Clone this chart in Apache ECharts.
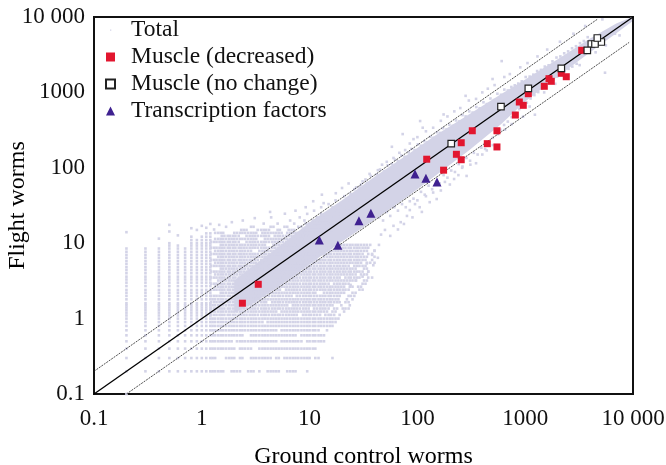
<!DOCTYPE html>
<html><head><meta charset="utf-8">
<style>html,body{margin:0;padding:0;background:#fff}#c{width:666px;height:465px}</style>
<script src="https://cdn.jsdelivr.net/npm/echarts@6/dist/echarts.min.js"></script>
</head><body><div id="c"></div>
<script>
const tickLabels = ['0.1','1','10','100','1000','10 000'];

const muscleDecreased = [[122,130],[323,310],[255,215],[230,151],[255,128],[175,93],[547,310],[445,209],[547,189],[810,501],[882,746],[960,674],[1069,961],[1504,1205],[1663,1520],[1746,1403],[2162,1792],[2405,1614],[3342,3614],[3.34,2.85],[2.38,1.6]];
const muscleNoChange = [[206,209],[596,646],[1069,1133],[2162,2089],[5080,4660],[4104,4385],[4440,4385],[3767,3614],[4667,5265]];
const transcriptionFactors = [[95,83],[120,72.6],[152,64.8],[12.3,11],[18.3,9.4],[28.7,19.9],[37,24.9]];

// Solid part of the "Total" cloud: edges
const bandX    = [2,3,6,10,20,40,80,150,300,600,1000,2000,4000,7000,9800];
const bandHigh = [3.2,5,10.5,19,37,76,148,275,510,950,1480,2750,5200,8200,10000];
const bandLow  = [1.2,1.6,3.1,5.3,10.5,20.5,41,80,170,380,760,1620,3400,6100,8700];

// Discrete count levels visible in the low-expression part of the cloud
const lowLevels = [0.1,0.2,0.3,0.4,0.5,0.6,0.7,0.8,0.9,1,1.1,1.2,1.3,1.4,1.5,1.6,1.8,2,2.2,2.4,2.7,3,3.3,3.6,4,4.4,4.8,5.3,5.8,6.4,7,7.7,8.5,9.3,10,11,12.2,13.5];
// column: x, lowest y, highest y
const columns = [[0.2,0.1,8.5],[0.3,0.2,8.5],[0.4,0.2,8.5],[0.5,0.2,10],[0.6,0.2,9.3],[0.7,0.2,8.5],[0.8,0.2,12.2],[0.9,0.2,11],[1,0.2,12.2],[1.1,0.2,13.5],[1.2,0.2,13.5]];
const rowLevels = [1.26,1.33,1.42,1.5,1.58,1.68,1.79,1.89,2,2.12,2.26,2.38,2.52,2.69,2.86,3.02,3.2,3.42,3.65,3.85,4.08,4.35,4.62,4.9,5.18,5.5,5.85,6.2,6.6,7,7.4,7.85,8.4,8.95,9.5,10,10.7,11.3,12.1,12.8,13.6,14.5,15.4,16.3,17.4,18.5,19.7];
// row: y, stretches of x where dots occur
const rows = [
 [0.2,[[1.2,1.65],[1.8,2.3],[2.6,3.1],[3.3,3.45],[4,5.3],[6,7.4],[9.4,9.6]]],
 [0.3,[[1.25,1.4],[1.6,1.9],[2,2.1],[2.2,2.5],[2.7,4.4],[4.8,5.3],[5.6,10],[11.3,12.5],[16,16.4]]],
 [0.4,[[1.25,2],[2.2,3],[3.3,6.6],[7,11.5]]],
 [0.5,[[1.25,1.9],[2.05,5],[5.5,8.5],[9.5,13.7]]],
 [0.6,[[1.25,2.5],[2.8,7.5],[8,14]]],
 [0.7,[[1.25,4.9],[5.2,12.2],[14,14.6]]],
 [0.8,[[1.25,7],[7.4,16.4]]],
 [0.9,[[1.25,3.7],[4,17.5]]],
 [1,[[1.25,9],[9.5,18.6]]]
];
// scattered part of the cloud: rows of dots, with two irregular x rakes
const rakeA = [1.22,1.3,1.37,1.46,1.53,1.62,1.74,1.83,1.95,2.05,2.2,2.32,2.45,2.6,2.78,2.95,3.1,3.3,3.55,3.75,3.95,4.2,4.5,4.75,5.05,5.3,5.65,6.05,6.4,6.8,7.2,7.6,8.1,8.7,9.2,9.8,10.3,11,11.7,12.5,13.2,14,15,15.8,16.9,18,19,20.3,21.5,23,24.2,26,27.5,29,31,33,35,38];
const rakeB = [1.26,1.33,1.42,1.5,1.58,1.68,1.79,1.89,2,2.12,2.26,2.38,2.52,2.69,2.86,3.02,3.2,3.42,3.65,3.85,4.08,4.35,4.62,4.9,5.18,5.5,5.85,6.2,6.6,7,7.4,7.85,8.4,8.95,9.5,10,10.7,11.3,12.1,12.8,13.6,14.5,15.4,16.3,17.4,18.5,19.7,20.9,22.2,23.6,25,26.7,28.2,30,32,34,36.5,40];
const cloudRows = [
 [1.12,rakeA,[[1.2,8],[8.5,13],[14,17],[19,20]]],
 [1.24,rakeB,[[1.2,5],[5.5,15],[16,18],[20,21]]],
 [1.36,rakeA,[[1.2,10],[11,15],[16.5,18],[20,23]]],
 [1.5,rakeB,[[1.2,6.5],[7,17],[19,20],[23,24]]],
 [1.65,rakeA,[[1.2,4],[4.3,14],[15,19],[21,24]]],
 [1.8,rakeB,[[1.2,9],[9.5,19],[21,23],[25,26]]],
 [2,rakeA,[[1.2,7],[7.6,20],[23,27]]],
 [2.2,rakeB,[[1.5,12],[13,21],[25,28]]],
 [2.42,rakeA,[[1.2,5.4],[6,17],[18,24],[29,31]]],
 [2.65,rakeB,[[1.3,10],[10.5,21],[23,26],[28,30]]],
 [2.9,rakeA,[[1.2,3],[3.3,15],[16,24],[31,33]]],
 [3.2,rakeB,[[1.4,8],[8.4,24],[25,28],[32,34]]],
 [3.5,rakeA,[[1.2,6],[6.4,20],[21,29],[35,38]]],
 [3.85,rakeB,[[1.3,4],[4.4,27],[30,34]]],
 [4.2,rakeA,[[1.2,11],[11.7,31],[35,36]]],
 [4.6,rakeB,[[1.5,7],[7.4,28],[32,36]]],
 [5,rakeA,[[1.2,3.5],[4,24],[26,33]]],
 [5.5,rakeB,[[1.3,9],[9.5,30],[34,40]]],
 [6,rakeA,[[1.2,5],[5.6,33],[38,39]]],
 [6.6,rakeB,[[1.4,12],[13,36],[40,41]]],
 [7.2,rakeA,[[1.2,7],[8,31],[35,38]]],
 [7.9,rakeB,[[1.3,3],[3.4,34],[40,41]]],
 [8.7,rakeA,[[1.2,5.3],[5.7,16],[18,35]]],
 [9.5,rakeB,[[1.5,4],[4.4,9],[9.5,36.5]]],
 [10.4,rakeA,[[1.2,2.3],[2.6,7],[7.6,13]]],
 [11.4,rakeB,[[1.3,3.3],[3.7,5.2],[5.5,9],[10,14]]],
 [12.5,rakeA,[[1.5,2.2],[2.6,4.3],[4.7,8],[8.7,11.8]]],
 [13.7,rakeB,[[1.3,1.6],[2,3.2],[3.6,5.5],[6.2,7.9],[8.9,10.8],[12,14]]],
 [15,rakeA,[[2.3,2.7],[3.2,4.3],[5,5.4],[6.3,7.3],[8.6,9.3],[10.2,12.6],[14,16]]],
 [16.5,rakeB,[[1.6,1.7],[2.8,3.1],[4.3,4.7],[5.8,6.3],[7.8,8.5],[10,11.4],[12.7,14.6]]],
 [18.2,rakeA,[[3.7,3.8],[5,5.1],[7.1,7.3],[9.1,9.9],[11,12.6],[14,17]]],
 [20,rakeB,[[6.5,6.7],[8.9,9],[10.6,11.4],[12,14.6],[16.2,17.5]]],
 [22,rakeA,[[8,8.2],[11.6,11.8],[13,14],[15.7,17],[18,19.1]]],
 [24.5,rakeB,[[9.4,9.6],[12.7,12.9],[14.4,15.5],[17.3,20]]],
 [27,rakeA,[[11,11.1],[15.8,15.9],[18,19.1],[21.4,23.1]]],
 [30,rakeB,[[12.7,12.9],[16.2,17.5],[20.8,22.3],[25,26.8]]],
 [33,rakeA,[[15,15.1],[20.2,20.4],[23,24.3],[26,27.6]]],
 [37,rakeB,[[17.3,17.5],[22.1,22.3],[26.6,28.3],[30,32.1]]]
];
const scatterDots = [[0.2,14],[0.4,11.5],[0.5,17.5],[0.5,14.3],[0.6,12.7],[0.8,15.8],[0.9,15],[1,17],[1.1,16],[1.2,18],[1.45,17.5],[1.3,15.2],[1.9,19],[2.4,20],[3.1,21.5],[4.4,22],[4.3,26],[5.9,24.6],[7.4,27],[9.2,30],[10.8,36],[13,44],[17.5,46],[20,54],[13.5,34],[23,62],[27,55],[30,60],[33,70],[36,83],[43,93],[47,110],[52,120],[58,190],[60,135],[68,158],[73,280],[77,172],[85,210],[92,240],[100,255],[106,417],[112,340],[120,305],[140,340],[165,420],[175,510],[190,480],[220,560],[250,620],[280,900],[300,780],[350,820],[400,1000],[450,1120],[498,1505],[520,1250],[605,2600],[640,1600],[720,1750],[900,2150],[1050,2450],[1300,3000],[1600,3700],[2100,4700],[2800,6000],[3600,7600],[5200,9300],
 [5500,1824],[40,8],[44,9.5],[46,13],[50,15],[56,12.5],[60,17],[66,15.2],[70,19],[75,18],[85,27.5],[80,23],[90,22],[95,33],[105,30],[110,26],[120,42],[130,35],[140,47],[151,38.5],[165,50],[180,65],[200,60],[219,71],[240,80],[286,78],[260,100],[310,110],[350,115],[400,150],[440,170],[500,200],[560,280],[650,320],[750,380],[955,476],[1230,506],[1100,650],[1500,1000],[1900,1300],[2500,1650],[3200,2300],[4500,3400],[5600,4200],[7500,5700],[6800,6000],[3000,2400],[38,7],[34,5.4],[24,2.8],[27,3.2],[31,3.6],[35,4.2],[43,6.4],[39,5.1]
];
// dots hugging the solid band, which give it its rough edge
const edgeDots = [[21,42],[24,45],[26,52],[29,55],[31,66],[34,63],[37,78],[42,82],[45,95],[49,90],[53,108],[58,112],[62,128],[66,122],[71,146],[76,140],[83,160],[88,178],[94,172],[101,205],[108,196],[116,226],[124,218],[132,258],[141,250],[152,296],[162,290],[173,335],[186,322],[198,372],[212,360],[228,425],[244,412],[262,500],[280,480],[303,560],[325,540],[352,640],[378,615],[410,740],[440,700],[476,830],[512,790],[552,960],[596,930],[640,1090],[690,1060],[744,1180],[800,1240],[862,1310],[930,1400],[1010,1600],[1100,1620],[1190,1720],[1290,1920],[1400,1990],[1520,2200],[1650,2290],[1790,2580],[1950,2900],[2120,3000],[2300,3300],[2500,3500],[2720,3850],[2960,4100],[3220,4500],[3500,4800],[3800,5400],
 [44,22],[48,20],[52,26],[56,23],[61,30],[66,27],[72,33],[78,30],[85,36],[92,39],[100,37],[108,48],[117,44],[127,58],[137,52],[149,66],[161,62],[175,80],[190,74],[206,92],[223,88],[242,112],[262,104],[285,135],[308,124],[334,158],[362,150],[392,185],[425,178],[461,222],[500,250],[542,290],[588,320],[637,370],[690,410],[748,470],[811,540],[880,600],[954,660],[1035,730],[1122,830],[1217,920],[1320,1010],[1431,1120],[1552,1230],[1683,1350],[1825,1460],[1979,1620],[2146,1760],[2327,1900],[2523,2050],[2736,2200]
];

const totalDots = [];
columns.forEach(c => lowLevels.filter(y => y >= c[1] && y <= c[2]).forEach(y => totalDots.push([c[0], y])));
rows.forEach(r => r[1].forEach(s => rowLevels.filter(x => x >= s[0] && x <= s[1]).forEach(x => totalDots.push([x, r[0]]))));
cloudRows.forEach(r => r[2].forEach(s => r[1].filter(x => x >= s[0] && x <= s[1]).forEach(x => totalDots.push([x, r[0]]))));
scatterDots.forEach(p => totalDots.push(p));
edgeDots.forEach(p => totalDots.push(p));

const cloudColor = '#d3d3e7';
const serif = '"Liberation Serif","DejaVu Serif",serif';
const chart = echarts.init(document.getElementById('c'), null, {renderer:'canvas'});
const axisBase = {
  type:'log', logBase:10, min:0.1, max:10000,
  nameLocation:'middle',nameMoveOverlap:false,
  nameTextStyle:{color:'#000',fontFamily:serif,fontSize:24},
  axisLine:{show:true,lineStyle:{color:'#111',width:2}},
  axisTick:{show:false}, minorTick:{show:false}, splitLine:{show:false},
  axisLabel:{color:'#111',fontFamily:serif,fontSize:23,formatter:(v,i)=>tickLabels[i]}
};
chart.setOption({
  animation:false,
  backgroundColor:'#fff',
  grid:{left:94,right:33,top:17,bottom:71,outerBoundsMode:'none',show:true,borderColor:'#111',borderWidth:2,backgroundColor:'transparent'},
  xAxis:Object.assign({},axisBase,{name:'Ground control worms',nameGap:51,axisLabel:Object.assign({},axisBase.axisLabel,{margin:13})}),
  yAxis:Object.assign({},axisBase,{name:'Flight worms',nameGap:64,axisLabel:Object.assign({},axisBase.axisLabel,{margin:9})}),
  legend:{
    orient:'vertical',left:100,top:18,padding:[0,0,0,5],itemGap:3,itemWidth:9,itemHeight:9,
    textStyle:{fontFamily:serif,fontSize:23.5,color:'#111',padding:[0,0,0,11]},
    data:[
      {name:'Total',icon:'path://M0 0h.01v.01zM10 10h.01v.01zM4.5 4.5h1.4v1.4h-1.4z',itemStyle:{color:cloudColor}},
      {name:'Muscle (decreased)',icon:'rect'},
      {name:'Muscle (no change)',icon:'rect'},
      {name:'Transcription factors',icon:'triangle'}
    ]
  },
  series:[
    {name:'band',type:'custom',coordinateSystem:'cartesian2d',silent:true,z:1,data:[[1,1]],
     renderItem:(params,api)=>{
       const pts = bandX.map((x,i)=>api.coord([x,bandHigh[i]])).concat(bandX.map((x,i)=>api.coord([x,bandLow[i]])).reverse());
       return {type:'polygon',shape:{points:pts},style:{fill:cloudColor}};
     }},
    {name:'Total',type:'scatter',data:totalDots,symbol:'rect',symbolSize:2.6,z:2,itemStyle:{color:cloudColor,opacity:1},silent:true},
    {name:'y=x',type:'line',data:[[0.1,0.1],[10000,10000]],symbol:'none',z:3,lineStyle:{color:'#000',width:1.3},silent:true},
    {name:'2x',type:'line',data:[[0.1,0.2],[4730,9460]],symbol:'none',z:3,lineStyle:{color:'#222',width:0.8,type:[2,1]},silent:true},
    {name:'half',type:'line',data:[[0.2,0.1],[9200,4600]],symbol:'none',z:3,lineStyle:{color:'#222',width:0.8,type:[2,1]},silent:true},
    {name:'Muscle (decreased)',type:'scatter',data:muscleDecreased,symbol:'rect',symbolSize:7,z:4,itemStyle:{color:'#e2162f',opacity:1}},
    {name:'Muscle (no change)',type:'scatter',data:muscleNoChange,symbol:'rect',symbolSize:6.5,z:5,itemStyle:{color:'#fff',borderColor:'#222',borderWidth:1.2,opacity:1}},
    {name:'Transcription factors',type:'scatter',data:transcriptionFactors,symbol:'triangle',symbolSize:9,z:6,itemStyle:{color:'#3f2190',opacity:1}}
  ]
});
</script></body></html>
